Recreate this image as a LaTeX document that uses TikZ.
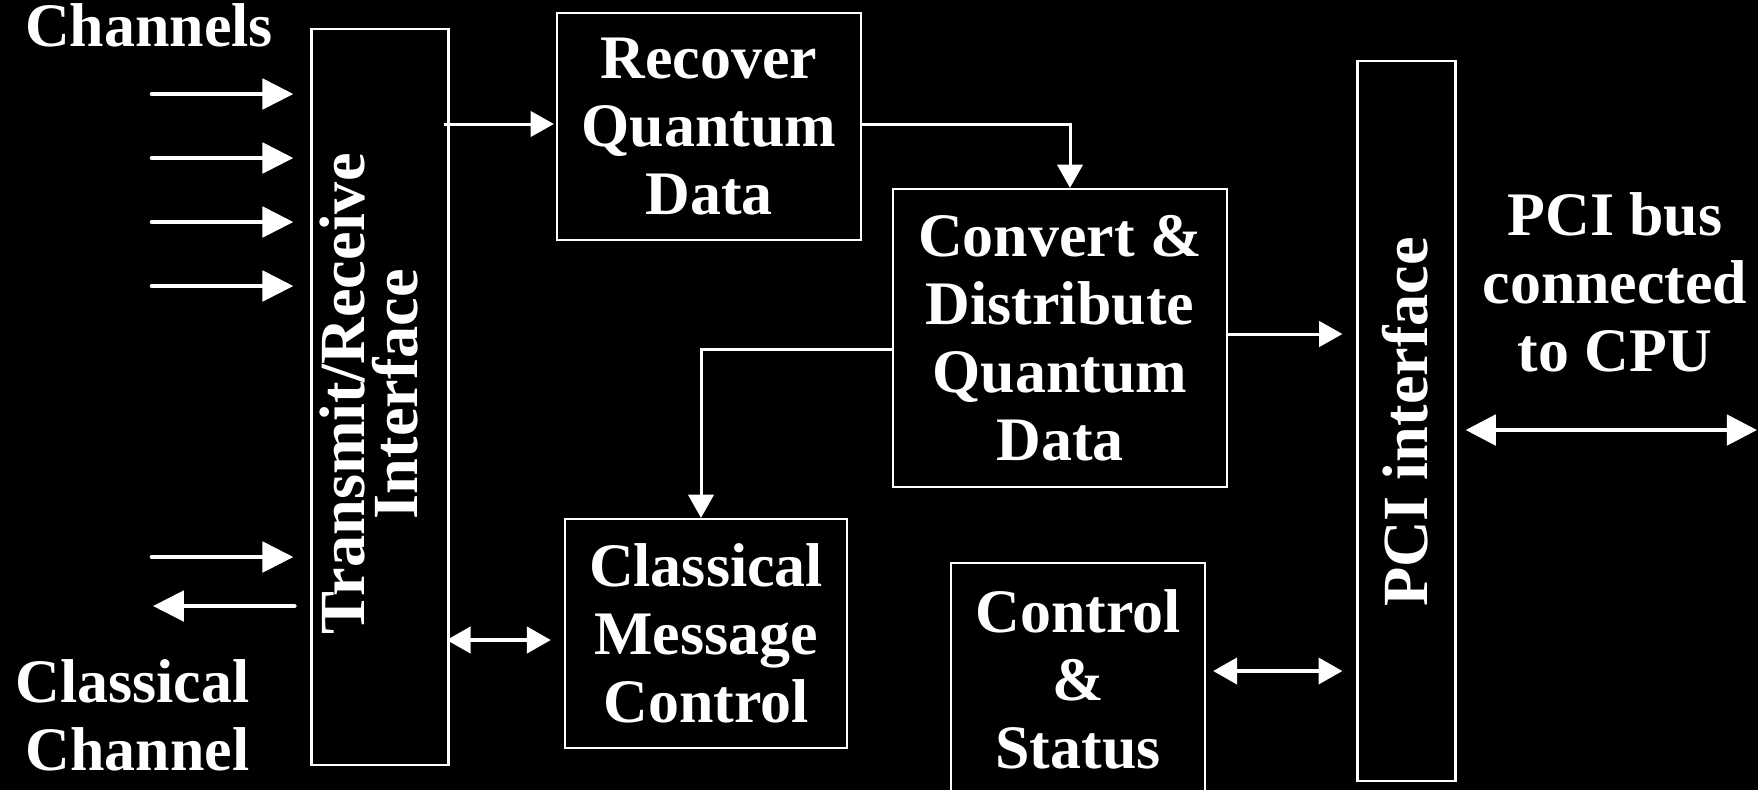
\documentclass[tikz,border=0pt]{standalone}
\usepackage{fontspec}
\setmainfont{Liberation Serif}
\usetikzlibrary{arrows.meta}

\tikzset{
  blk/.style={draw=white,line width=0.6pt,inner sep=0pt},
  lbl/.style={text=white,inner sep=0pt,align=center,
    font=\fontsize{17.6}{19.35}\selectfont\bfseries},
  vlbl/.style={lbl,rotate=90,font=\fontsize{18.3}{15}\selectfont\bfseries},
  conn/.style={white,line width=0.85pt,-{Triangle[length=6.6pt,width=7.2pt]}},
  dconn/.style={white,line width=1.1pt,
    {Triangle[length=6.8pt,width=7.4pt]}-{Triangle[length=6.8pt,width=7.4pt]}},
  chan/.style={white,line width=1.3pt,line cap=round,-{Triangle[length=8.8pt,width=8.6pt]}},
  bus/.style={white,line width=1.3pt,
    {Triangle[length=8.6pt,width=8.6pt]}-{Triangle[length=8.6pt,width=8.6pt]}}
}

\begin{document}
\begin{tikzpicture}[x=0.01cm,y=-0.01cm]
\path[use as bounding box,fill=black] (0,0) rectangle (1758,790);
%\draw[step=100,gray,very thin] (0,0) grid (1758,790);
% blocks
\node[blk,minimum width=1.37cm,minimum height=7.36cm] (tr) at (380,397) {};
\node[vlbl] (trtxt) at (369,394) {Transmit/Receive\\Interface};
\node[blk,lbl,minimum width=3.04cm,minimum height=2.27cm] (rec) at (709,126.5) {Recover\\Quantum\\Data};
\node[blk,lbl,minimum width=3.33cm,minimum height=2.98cm] (conv) at (1060,338) {Convert \&\\Distribute\\Quantum\\Data};
\node[blk,lbl,minimum width=2.82cm,minimum height=2.29cm] (cmc) at (706,633.5) {Classical\\Message\\Control};
\node[blk,lbl,minimum width=2.54cm,minimum height=2.32cm] (cs) at (1078,679) {Control\\\&\\Status};
\node[blk,minimum width=0.98cm,minimum height=7.19cm] (pci) at (1406.5,421) {};
\node[vlbl] (pcitxt) at (1405,422) {PCI interface};
% outside labels
\node[lbl,anchor=base] (chn) at (149,46) {Channels};
\node[lbl,anchor=south east,align=right] (cch) at (250,772) {Classical\\Channel};
\node[lbl,anchor=south] (bus) at (1615,373) {PCI bus\\connected\\to CPU};
% channel arrows
\foreach \y [count=\i] in {94,158,222,286}{
  \coordinate (q\i) at (152,\y);
  \draw[chan,shorten >=0.17cm] (q\i) -- (tr.west |- q\i);
}
\coordinate (ctx) at (152,557);
\coordinate (crx) at (153,606);
\draw[chan,shorten >=0.17cm] (ctx) -- (tr.west |- ctx);
\draw[chan,shorten <=0.16cm] (tr.west |- crx) -- (crx);
% data flow
\draw[conn,shorten <=-0.06cm,shorten >=0.02cm] (tr.east |- 0,124) -- (rec.west |- 0,124);
\draw[conn] (rec.east |- 0,124) -| (conv.north -| 1070,0);
\draw[conn,shorten >=0.14cm] (conv.east |- 0,334) -- (pci.west |- 0,334);
\draw[conn] (conv.west |- 0,349) -| (cmc.north -| 701,0);
\draw[dconn,shorten <=-0.03cm,shorten >=0.13cm] (tr.east |- 0,640) -- (cmc.west |- 0,640);
\draw[dconn,shorten <=0.07cm,shorten >=0.14cm] (cs.east |- 0,671) -- (pci.west |- 0,671);
\coordinate (cpu) at (1757,430);
\draw[bus,shorten <=0.09cm] (pci.east |- cpu) -- (cpu);
\end{tikzpicture}
\end{document}
